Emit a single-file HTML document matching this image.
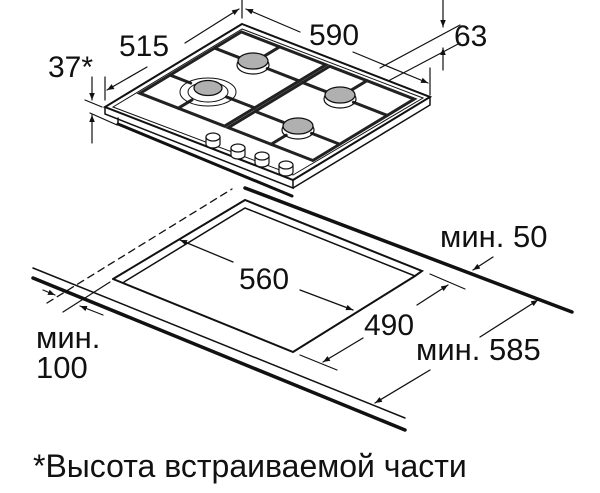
<!DOCTYPE html>
<html><head><meta charset="utf-8"><style>
html,body{margin:0;padding:0;background:#fff;}
svg{display:block;}
text{font-family:"Liberation Sans",sans-serif;fill:#111;}
</style></head><body>
<svg width="600" height="493" viewBox="0 0 600 493" xmlns="http://www.w3.org/2000/svg">
<defs>
<marker id="a" viewBox="0 0 10 10" refX="10" refY="5" markerWidth="7" markerHeight="7" orient="auto-start-reverse" markerUnits="userSpaceOnUse"><path d="M0,1 L10,5 L0,9 z" fill="#111"/></marker>
</defs>
<g stroke="#111" fill="none" stroke-linecap="round">
<line x1="245" y1="188" x2="572" y2="312" stroke-width="3.5"/>
<line x1="33" y1="268" x2="405" y2="418" stroke-width="1.5"/>
<line x1="33" y1="278" x2="405" y2="430" stroke-width="3.5"/>
<line x1="47" y1="303" x2="232" y2="189" stroke-width="1.3" stroke-dasharray="7,5"/>
<polyline points="113,279 245,200 422,271 415,276 293,352 113,279" stroke-width="2"/>
<polyline points="124,282 245,208 415,276" stroke-width="1.5"/>
<line x1="430" y1="274" x2="465" y2="289" stroke-width="1.2"/>
<line x1="300" y1="355" x2="337" y2="370" stroke-width="1.2"/>
<line x1="63" y1="312" x2="110" y2="282" stroke-width="1.2"/>
<line x1="43" y1="290" x2="55" y2="295" stroke-width="1.2" marker-end="url(#a)"/>
<line x1="103" y1="315" x2="80" y2="306" stroke-width="1.2" marker-end="url(#a)"/>
<line x1="233" y1="262" x2="180" y2="240" stroke-width="1.3" marker-end="url(#a)"/>
<line x1="300" y1="290" x2="353" y2="310" stroke-width="1.3" marker-end="url(#a)"/>
<line x1="417" y1="305" x2="448" y2="285" stroke-width="1.3" marker-end="url(#a)"/>
<line x1="363" y1="338" x2="323" y2="362" stroke-width="1.3" marker-end="url(#a)"/>
<line x1="493" y1="257" x2="473" y2="270" stroke-width="1.3" marker-end="url(#a)"/>
<line x1="480" y1="337" x2="538" y2="300" stroke-width="1.3" marker-end="url(#a)"/>
<line x1="430" y1="370" x2="375" y2="403" stroke-width="1.3" marker-end="url(#a)"/>

<polyline points="105,107 105,114 293,188 293,180" stroke-width="1.5" fill="#fff"/>
<polyline points="293,188 430,105 430,97" stroke-width="1.5"/>
<line x1="118" y1="124" x2="292" y2="196" stroke-width="3"/>
<line x1="118" y1="118" x2="118" y2="124" stroke-width="1.5"/>
<polygon points="242,24 430,97 293,180 105,107" stroke-width="2" fill="#fff"/>
<polygon points="242,29 423,98 293,175 113,107" stroke-width="1"/>
<g transform="matrix(188 73 -137 83 242 24)">
 <g stroke="#222" stroke-width="3">
  <polygon points="0.04,0.06 0.49,0.06 0.49,0.8 0.04,0.8" vector-effect="non-scaling-stroke"/>
  <polygon points="0.51,0.06 0.96,0.06 0.96,0.8 0.51,0.8" vector-effect="non-scaling-stroke"/>
  <line x1="0.04" y1="0.255" x2="0.17" y2="0.255" vector-effect="non-scaling-stroke"/>
  <line x1="0.32" y1="0.255" x2="0.49" y2="0.255" vector-effect="non-scaling-stroke"/>
  <line x1="0.244" y1="0.06" x2="0.244" y2="0.17" vector-effect="non-scaling-stroke"/>
  <line x1="0.04" y1="0.58" x2="0.15" y2="0.58" vector-effect="non-scaling-stroke"/>
  <line x1="0.34" y1="0.58" x2="0.49" y2="0.58" vector-effect="non-scaling-stroke"/>
  <line x1="0.244" y1="0.7" x2="0.244" y2="0.8" vector-effect="non-scaling-stroke"/>
  <line x1="0.51" y1="0.257" x2="0.64" y2="0.257" vector-effect="non-scaling-stroke"/>
  <line x1="0.78" y1="0.257" x2="0.96" y2="0.257" vector-effect="non-scaling-stroke"/>
  <line x1="0.708" y1="0.06" x2="0.708" y2="0.17" vector-effect="non-scaling-stroke"/>
  <line x1="0.51" y1="0.604" x2="0.66" y2="0.604" vector-effect="non-scaling-stroke"/>
  <line x1="0.81" y1="0.604" x2="0.96" y2="0.604" vector-effect="non-scaling-stroke"/>
  <line x1="0.738" y1="0.69" x2="0.738" y2="0.8" vector-effect="non-scaling-stroke"/>
 </g>
</g>
<ellipse cx="208" cy="92" rx="28" ry="14" stroke-width="1"/>
<ellipse cx="208" cy="92" rx="20" ry="10" stroke-width="1"/>
<ellipse cx="253" cy="65" rx="16" ry="9" stroke-width="1.2"/>
<ellipse cx="340" cy="99" rx="16" ry="9" stroke-width="1.2"/>
<ellipse cx="298" cy="130" rx="16" ry="9" stroke-width="1.2"/>
<g fill="#b0b0b0" stroke-width="1.3">
<ellipse cx="253" cy="61" rx="15" ry="8"/>
<ellipse cx="208" cy="88" rx="14" ry="7.5"/>
<ellipse cx="340" cy="95" rx="15" ry="8"/>
<ellipse cx="298" cy="126" rx="15" ry="8"/>
</g>
<g stroke-width="1.2" fill="#fff">
<path d="M206,137 v7 a7,4 0 0 0 14,0 v-7"/><ellipse cx="213" cy="137" rx="7" ry="4"/>
<path d="M231,148 v7 a7,4 0 0 0 14,0 v-7"/><ellipse cx="238" cy="148" rx="7" ry="4"/>
<path d="M255,156 v7 a7,4 0 0 0 14,0 v-7"/><ellipse cx="262" cy="156" rx="7" ry="4"/>
<path d="M279,165 v7 a7,4 0 0 0 14,0 v-7"/><ellipse cx="286" cy="165" rx="7" ry="4"/>
</g>
<line x1="242" y1="0" x2="242" y2="18" stroke-width="1.2"/>
<line x1="105" y1="77" x2="105" y2="100" stroke-width="1.2"/>
<line x1="430" y1="68" x2="430" y2="95" stroke-width="1.2"/>
<line x1="147" y1="67" x2="107" y2="90" stroke-width="1.2" marker-end="url(#a)"/>
<line x1="185" y1="43" x2="239" y2="9" stroke-width="1.2" marker-end="url(#a)"/>
<line x1="300" y1="32" x2="246" y2="9" stroke-width="1.2" marker-end="url(#a)"/>
<line x1="353" y1="52" x2="428" y2="83" stroke-width="1.2" marker-end="url(#a)"/>
<line x1="380" y1="68" x2="460" y2="25" stroke-width="1.2"/>
<line x1="390" y1="80" x2="460" y2="43" stroke-width="1.2"/>
<line x1="443" y1="0" x2="443" y2="27" stroke-width="1.2" marker-end="url(#a)"/>
<line x1="443" y1="70" x2="443" y2="48" stroke-width="1.2" marker-end="url(#a)"/>
<line x1="85" y1="100" x2="102" y2="107" stroke-width="1.2"/>
<line x1="90" y1="113" x2="117" y2="125" stroke-width="1.2"/>
<line x1="92" y1="77" x2="92" y2="100" stroke-width="1.2" marker-end="url(#a)"/>
<line x1="92" y1="143" x2="92" y2="115" stroke-width="1.2" marker-end="url(#a)"/>
</g>
<g font-size="30">
<text x="119" y="56">515</text>
<text x="309" y="45">590</text>
<text x="454" y="46">63</text>
<text x="48" y="77">37*</text>
<text x="239" y="289">560</text>
<text x="364" y="335">490</text>
<text x="440" y="247" font-size="31">мин. 50</text>
<text x="416" y="360" font-size="31">мин. 585</text>
<text x="36" y="348" font-size="31">мин.</text>
<text x="36" y="378" font-size="31">100</text>
<text x="33" y="477" font-size="32">*Высота встраиваемой части</text>
</g>
</svg>
</body></html>
